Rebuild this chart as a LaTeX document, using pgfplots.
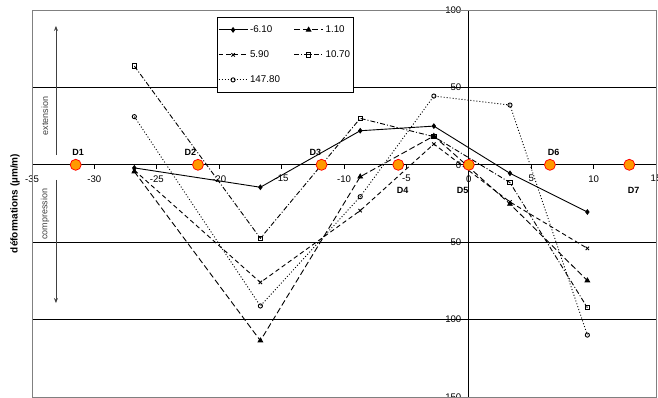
\documentclass[border=0pt]{standalone}
\usepackage{pgfplots}
\pgfplotsset{compat=1.18}
\usepackage{fontspec}
\setmainfont{Liberation Sans}
\usetikzlibrary{arrows.meta}

\definecolor{gaugefill}{RGB}{255,153,0}
\definecolor{gaugeedge}{RGB}{255,0,0}
\definecolor{framegray}{RGB}{128,128,128}
\definecolor{notegray}{RGB}{64,64,64}

% strain readings along the section (x in cm, strain in micro-m/m)
\pgfplotstableread{
x      s1     s2      s3     s4     s5
-26.8  -2.0   -4.4    -3.5   63.8   31.1
-16.7  -14.5  -113.6  -76.0  -47.5  -91.2
-8.7   22.0   -7.7    -29.6  30.0   -20.6
-2.8   25.0   18.6    13.4   18.2   44.4
3.3    -5.5   -25.3   -24.0  -11.5  38.6
9.5    -30.5  -74.8   -54.0  -92.3  -110.0
}\strains

% gauge positions D1..D7
\pgfplotstableread{
x      y
-31.5  0
-21.7  0
-11.8  0
-5.65  0
0.0    0
6.5    0
12.86  0
}\gauges

\begin{document}
\begin{tikzpicture}[font=\fontsize{9.5bp}{11bp}\selectfont]
\useasboundingbox (-32bp,-1bp) rectangle (626bp,397bp);
\begin{axis}[
  at={(0,0)}, anchor=south west,
  scale only axis, width=624bp, height=387bp,
  xmin=-35, xmax=15, ymin=-150, ymax=100,
  axis lines=middle,
  axis line style={-, black, line width=0.8bp},
  xtick={-35,-30,...,15},
  ytick={-150,-100,...,100},
  hide obscured x ticks=false, hide obscured y ticks=false,
  tick align=outside,
  major tick length=4bp,
  tick style={black, line width=0.8bp},
  /pgf/number format/assume math mode=true,
  ticklabel style={font=\fontsize{9.6bp}{11bp}\selectfont},
  xticklabel style={yshift=-3bp},
  clip=false,
  legend columns=2,
  legend cell align=left,
  legend image code/.code={
    \draw[mark repeat=2,mark phase=2,#1]
      plot coordinates {(0bp,0bp) (14.5bp,0bp) (29bp,0bp)};},
  legend style={
    at={(0.296,0.9819)}, anchor=north west,
    draw=black, fill=white, line width=0.8bp,
    font=\fontsize{9.8bp}{11bp}\selectfont,
    inner xsep=1bp, inner ysep=6bp,
    row sep=12bp,
    nodes={inner sep=2bp, text height=7bp, text depth=2bp},
    /tikz/every even column/.append style={column sep=11.7bp},
  },
  every axis plot/.append style={black, line width=0.9bp},
]
% grid lines and frame
\draw[black, line width=0.8bp] (axis cs:-35,50) -- (axis cs:15,50);
\draw[black, line width=0.8bp] (axis cs:-35,-50) -- (axis cs:15,-50);
\draw[black, line width=0.8bp] (axis cs:-35,-100) -- (axis cs:15,-100);
\draw[framegray, line width=0.8bp] (rel axis cs:0,0) rectangle (rel axis cs:1,1);

\addplot[solid, mark=diamond*, mark size=2.2bp, mark options={solid}]
  table[x=x, y=s1] {\strains};
\addlegendentry{-6.10}
\addplot[dash pattern=on 6bp off 3bp, mark=triangle*, mark size=2.6bp, mark options={solid}]
  table[x=x, y=s2] {\strains};
\addlegendentry{1.10}
\addplot[dash pattern=on 4.5bp off 3bp, mark=x, mark size=2.4bp, mark options={solid}]
  table[x=x, y=s3] {\strains};
\addlegendentry{5.90}
\addplot[dash pattern=on 5bp off 2bp on 1bp off 2bp, mark=square, mark size=2.1bp, mark options={solid, fill=white}]
  table[x=x, y=s4] {\strains};
\addlegendentry{10.70}
\addplot[dash pattern=on 1bp off 2bp, mark=o, mark size=2.1bp, mark options={solid, fill=white}]
  table[x=x, y=s5] {\strains};
\addlegendentry{147.80}

\addplot[only marks, forget plot, mark=*, mark size=5.5bp,
  mark options={fill=gaugefill, draw=gaugeedge, line width=0.75bp}]
  table[x=x, y=y] {\gauges};

% gauge names
\begin{scope}[font=\fontsize{9bp}{10bp}\selectfont\bfseries]
\node at (axis cs:-31.3,8.3) {D1};
\node at (axis cs:-22.3,8.3) {D2};
\node at (axis cs:-12.3,8.3) {D3};
\node at (axis cs:-5.3,-16.5) {D4};
\node at (axis cs:-0.5,-16.5) {D5};
\node at (axis cs:6.8,8.3) {D6};
\node at (axis cs:13.2,-16.5) {D7};
\end{scope}

% extension / compression indicators
\draw[-{Stealth[length=5bp,width=4bp]}, notegray, line width=0.8bp]
  (axis cs:-33.08,6.3) -- (axis cs:-33.08,89.7);
\draw[-{Stealth[length=5bp,width=4bp]}, notegray, line width=0.8bp]
  (axis cs:-33.08,-9.8) -- (axis cs:-33.08,-89.3);
\node[rotate=90, notegray, font=\fontsize{9bp}{10bp}\selectfont] at (axis cs:-33.96,31.5) {extension};
\node[rotate=90, notegray, font=\fontsize{9bp}{10bp}\selectfont] at (axis cs:-33.96,-31.8) {compression};

\node[rotate=90, font=\fontsize{10bp}{12bp}\selectfont\bfseries]
  at ([xshift=-17bp]rel axis cs:0,0.5) {déformations (µm/m)};
\end{axis}
\end{tikzpicture}
\end{document}
